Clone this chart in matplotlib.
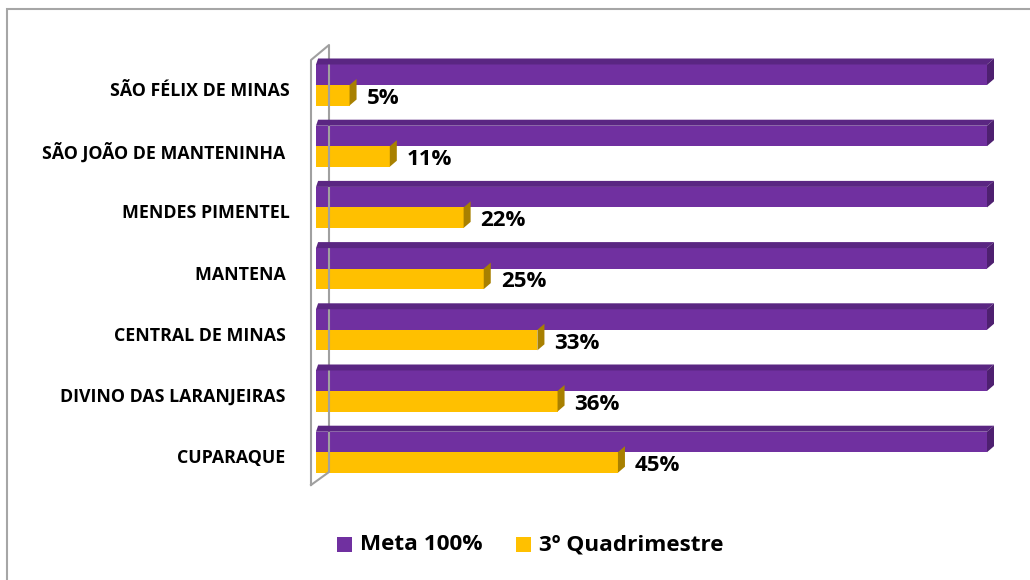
import matplotlib
matplotlib.use('Agg')
import matplotlib.pyplot as plt
from matplotlib.patches import Polygon, Rectangle
from matplotlib.lines import Line2D

# data
municipios = ['SÃO FÉLIX DE MINAS', 'SÃO JOÃO DE MANTENINHA ', 'MENDES PIMENTEL',
              'MANTENA ', 'CENTRAL DE MINAS ', 'DIVINO DAS LARANJEIRAS ', 'CUPARAQUE ']
meta = [100, 100, 100, 100, 100, 100, 100]
quadrimestre = [5, 11, 22, 25, 33, 36, 45]
legend_labels = ['Meta 100%', '3º Quadrimestre']

PURPLE = '#7030A0'
PURPLE_TOP = '#5A2682'
PURPLE_SIDE = '#4E2070'
GOLD = '#FFC000'
GOLD_SIDE = '#A88000'
FONT = 'Open Sans'

DPI = 100
fig = plt.figure(figsize=(10.3, 5.8), dpi=DPI)
W, H = 1030, 580

# outer frame (right/bottom edges cut off in the reference)
fig.patches.append(Rectangle((6.5 / W, -0.1), 1.2, 1 - 9 / H + 0.1, transform=fig.transFigure,
                             fill=False, edgecolor='#A6A6A6', linewidth=1.5))

ax = fig.add_axes([316 / W, 1 - 482.8 / H, 671 / W, (482.8 - 54.4) / H])
ax.set_xlim(0, 100)
ax.set_ylim(len(municipios) - 0.5, -0.5)
ax.axis('off')

h = 0.335
ypos = list(range(len(municipios)))
ax.barh([y - h / 2 for y in ypos], meta, height=h, color=PURPLE, zorder=4)
ax.barh([y + h / 2 for y in ypos], quadrimestre, height=h, color=GOLD, zorder=2)

fig.canvas.draw()
dx, dy = 7, 6


def topix(x, y):
    return ax.transData.transform((x, y))


def side(xe, ytop, ybot, color, z):
    (x1, y1), (_, y2) = topix(xe, ytop), topix(xe, ybot)
    pts = [(x1, y1), (x1 + dx, y1 + dy), (x1 + dx, y2 + dy), (x1, y2)]
    fig.patches.append(Polygon(pts, closed=True, transform=None, facecolor=color,
                               edgecolor='none', zorder=z))


for y, m, q in zip(ypos, meta, quadrimestre):
    # purple top face
    (xa, ya), (xb, _) = topix(0, y - h), topix(m, y - h)
    fig.patches.append(Polygon([(xa, ya), (xb, ya), (xb + dx, ya + dy), (xa + dx * 0.3, ya + dy)],
                               closed=True, transform=None, facecolor=PURPLE_TOP,
                               edgecolor='none', zorder=5))
    side(m, y - h, y, PURPLE_SIDE, 5)
    side(q, y, y + h, GOLD_SIDE, 3)
    ax.annotate(f'{q}%', (q, y + h / 2), xytext=(17, -3), textcoords='offset pixels',
                ha='left', va='center', fontsize=16, fontweight='bold', family=FONT,
                zorder=6)
    ax.annotate(municipios[y], (0, y), xytext=(-26, -6), textcoords='offset pixels',
                ha='right', va='center', fontsize=12.8, fontweight='bold', family=FONT,
                annotation_clip=False)

# side wall in pixels (display coords, origin bottom-left)
wall_col = '#A0A0A0'
fx, bx = 311, 329
wall = [(fx, 485), (fx, 60), (bx, 45), (bx, 472), (fx, 485)]
fig.lines.append(Line2D([p[0] for p in wall], [H - p[1] for p in wall], transform=None,
                        color=wall_col, linewidth=1.5, zorder=1))

# legend
leg_y = 1 - 545 / H
for xs, col, lab in [(337, PURPLE, legend_labels[0]), (516, GOLD, legend_labels[1])]:
    fig.patches.append(Rectangle((xs / W, leg_y - 7 / H), 15 / W, 15 / H,
                                 transform=fig.transFigure, facecolor=col, edgecolor='none'))
    fig.text((xs + 23) / W, leg_y, lab, ha='left', va='center', fontsize=16.2,
             fontweight='bold', family=FONT)

fig.savefig('out.png', dpi=DPI)
